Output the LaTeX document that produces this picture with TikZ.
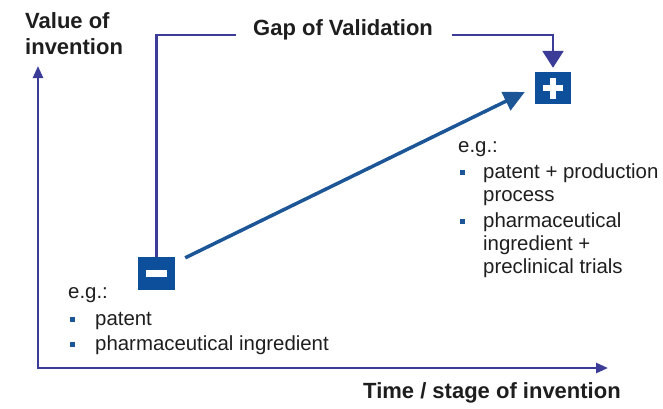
\documentclass[tikz,border=0pt]{standalone}
\usepackage{fontspec}
\setmainfont{Liberation Sans}
\usetikzlibrary{arrows.meta}
\definecolor{axiscol}{HTML}{3B3B98}
\definecolor{arrowcol}{HTML}{1D5697}
\definecolor{boxcol}{HTML}{0E4F9C}
\definecolor{txt}{HTML}{1E1E1E}
\begin{document}
\begin{tikzpicture}[x=1pt,y=-1pt,
 title/.style={font=\fontsize{22}{26}\selectfont\bfseries, text=txt, inner sep=0pt, anchor=base west},
 body/.style={font=\fontsize{20.4}{24}\selectfont, text=txt, inner sep=0pt, anchor=base west},
 bul/.style={fill=arrowcol, minimum size=5pt, inner sep=0pt},
 signbox/.style={fill=boxcol, minimum width=37pt, minimum height=33pt, inner sep=0pt},
 whitebar/.style={fill=white, inner sep=0pt},
 axis/.style={draw=axiscol, line width=2.5pt, {Triangle[width=10pt,length=12pt]}-{Triangle[width=10pt,length=12pt]}},
 bracket/.style={draw=axiscol, line width=2.6pt},
]
\path[use as bounding box] (0,0) rectangle (663,408);
% axes
\coordinate (ytip) at (38,66);
\coordinate (origin) at (38,368);
\coordinate (xtip) at (608,368);
\draw[axis] (ytip) -- (origin) -- (xtip);
% boxes
\node[signbox] (minus) at (156.5,273.5) {};
\node[whitebar, minimum width=21pt, minimum height=6.5pt] (minusbar) at (minus) {};
\node[signbox, minimum width=36pt, minimum height=32pt] (plus) at (553,88) {};
\node[whitebar, minimum width=20pt, minimum height=6.5pt] (plush) at (plus) {};
\node[whitebar, minimum width=6.5pt, minimum height=21pt] (plusv) at (plus) {};
% bracket
\coordinate (gl) at (236,35);
\coordinate (gr) at (452,35);
\draw[bracket] (minus.north) |- (gl);
\draw[bracket, -{Triangle[width=21pt,length=17pt]}, shorten >=4pt] (gr) -| (plus.north);
% main arrow
\draw[arrowcol, line width=3.5pt, -{Triangle[width=20pt,length=21pt]}]
  ([xshift=10pt,yshift=-1pt]minus.north east) -- ([xshift=-10pt,yshift=-4pt]plus.west);
% titles
\node[title] (value) at (25,28) {Value of};
\node[title] (invention) at (25,54) {invention};
\node[title] (gap) at (253,35) {Gap of Validation};
\node[title] (time) at (363,398) {Time / stage of invention};
% left text
\node[body] (eg1) at (68,298) {e.g.:};
\node[bul] (b1) at (72.5,319) {};
\node[body] (l1) at (95,325) {patent};
\node[bul] (b2) at (72.5,344) {};
\node[body] (l2) at (95,350) {pharmaceutical ingredient};
% right text
\node[body] (eg2) at (458,152) {e.g.:};
\node[bul] (b3) at (462.5,172) {};
\node[body] (r1) at (483,178) {patent + production};
\node[body] (r2) at (483,201) {process};
\node[bul] (b4) at (462.5,221) {};
\node[body] (r3) at (483,227) {pharmaceutical};
\node[body] (r4) at (483,250) {ingredient +};
\node[body] (r5) at (483,273) {preclinical trials};
\end{tikzpicture}
\end{document}
